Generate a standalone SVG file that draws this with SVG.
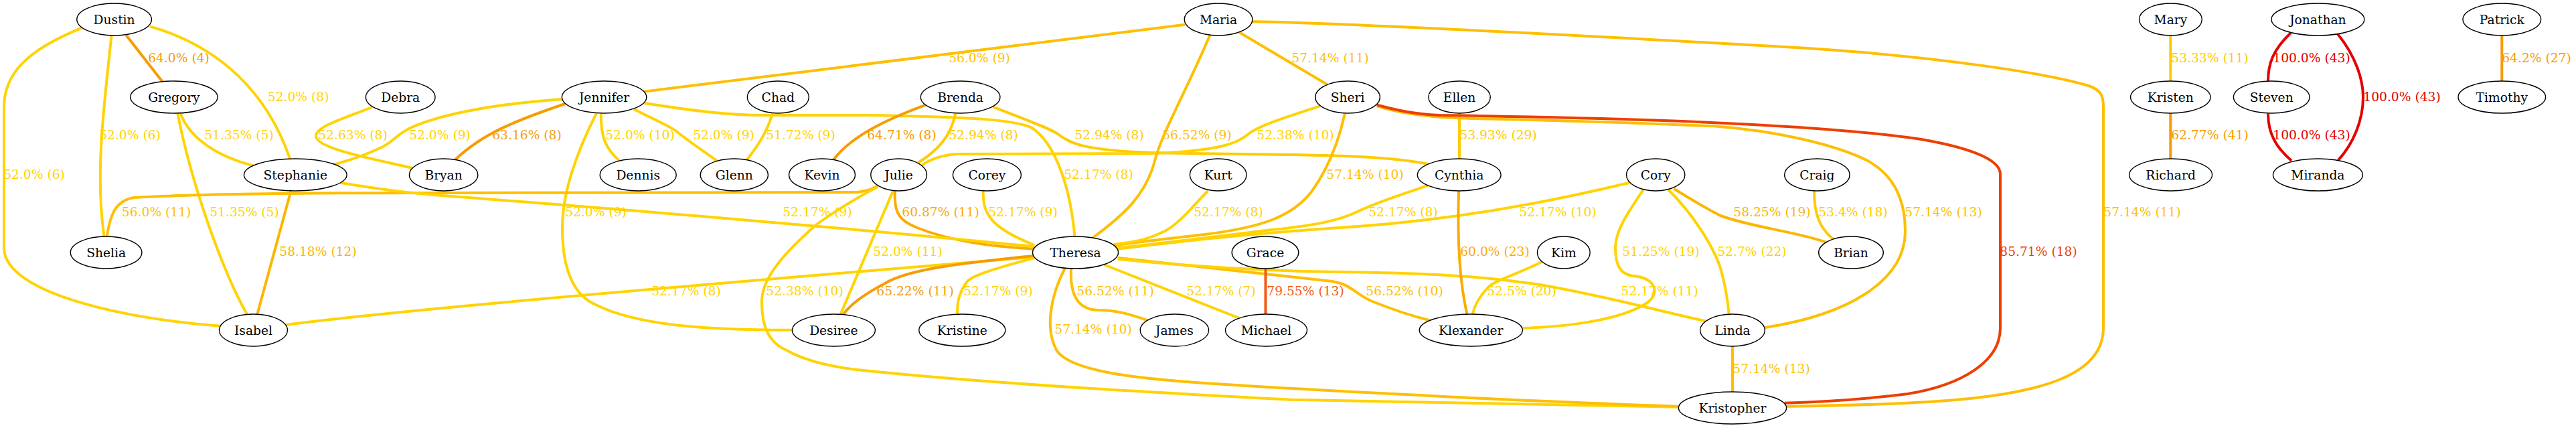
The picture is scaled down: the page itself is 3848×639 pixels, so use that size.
<svg xmlns="http://www.w3.org/2000/svg" width="3848" height="639" viewBox="0 0 3848 639">
<style>
text{font-family:"DejaVu Serif","Liberation Serif",serif;font-size:18.67px;text-anchor:middle}
.node ellipse{fill:#fff;stroke:#000;stroke-width:1.4}
.node text{fill:#000}
.edge path{fill:none;stroke-width:4}
.cA path{stroke:#FFD300}.cA text{fill:#FFD300}
.cB path{stroke:#FECB00}.cB text{fill:#FECB00}
.cC path{stroke:#FDBF00}.cC text{fill:#FDBF00}
.cD path{stroke:#FBB600}.cD text{fill:#FBB600}
.cE path{stroke:#FAAC00}.cE text{fill:#FAAC00}
.cF path{stroke:#F59D00}.cF text{fill:#F59D00}
.cG path{stroke:#F45A10}.cG text{fill:#F45A10}
.cH path{stroke:#EC3F00}.cH text{fill:#EC3F00}
.cI path{stroke:#E40000}.cI text{fill:#E40000}
</style>
<rect width="3848" height="639" fill="#fff"/>
<g id="edges">
<g class="edge cF" id="e_Dustin_Gregory"><path d="M188.6,52.7 L242.5,121.7"/><text x="267" y="92.5">64.0% (4)</text></g>
<g class="edge cA" id="e_Dustin_Shelia"><path d="M166.6,53 C155,160 142,260 155.5,353"/><text x="194" y="208.2">52.0% (6)</text></g>
<g class="edge cA" id="e_Dustin_Isabel"><path d="M122.3,41.7 C40,75 6,110 6,160 L6,370 C6,440 200,478 329.6,486.7"/><text x="51" y="266.5">52.0% (6)</text></g>
<g class="edge cA" id="e_Dustin_Stephanie"><path d="M223.9,39.3 C330,70 400,140 433.2,237.3"/><text x="445.6" y="150.5">52.0% (8)</text></g>
<g class="edge cA" id="e_Gregory_Stephanie"><path d="M269.5,169.3 C285,210 330,235 378,247.3"/><text x="357" y="208.2">51.35% (5)</text></g>
<g class="edge cA" id="e_Gregory_Isabel"><path d="M265.3,169.3 C285,270 330,400 369,469.3"/><text x="365" y="323.2">51.35% (5)</text></g>
<g class="edge cD" id="e_Stephanie_Isabel"><path d="M434.4,285.7 L384.3,469.3"/><text x="475" y="382.2">58.18% (12)</text></g>
<g class="edge cA" id="e_Debra_Bryan"><path d="M555.5,160 C520,175 472,188 472,203 C472,222 560,238 615.6,250.7"/><text x="527" y="208.2">52.63% (8)</text></g>
<g class="edge cA" id="e_Jennifer_Stephanie"><path d="M839.4,148.3 C740,155 660,170 615,190 C590,202 590,210 570,220 C545,232 520,240 497.5,246"/><text x="657" y="208.2">52.0% (9)</text></g>
<g class="edge cF" id="e_Jennifer_Bryan"><path d="M844,155 C770,180 720,200 680.2,238.3"/><text x="787" y="208.2">63.16% (8)</text></g>
<g class="edge cA" id="e_Jennifer_Dennis"><path d="M897.8,169.3 C897,205 905,222 925.2,240"/><text x="956" y="208.2">52.0% (10)</text></g>
<g class="edge cA" id="e_Jennifer_Glenn"><path d="M946.8,162.7 C975,178 995,185 1009,195 C1030,212 1050,225 1071,240"/><text x="1081" y="208.2">52.0% (9)</text></g>
<g class="edge cA" id="e_Chad_Glenn"><path d="M1154,169.3 C1145,200 1130,220 1115.9,238.3"/><text x="1196" y="208.2">51.72% (9)</text></g>
<g class="edge cC" id="e_Jennifer_Maria"><path d="M962.5,136.7 L1770.4,36.7"/><text x="1463" y="92.5">56.0% (9)</text></g>
<g class="edge cA" id="e_Jennifer_Theresa"><path d="M962.5,154 C1040,166 1090,172 1140,172 L1300,172 C1450,175 1510,178 1540,190 C1580,215 1600,290 1605.4,353.3"/><text x="1641" y="266.5">52.17% (8)</text></g>
<g class="edge cA" id="e_Jennifer_Desiree"><path d="M890.8,169.3 C860,230 840,290 840,340 C840,400 855,440 890,455 C950,485 1050,493 1183.4,492.7"/><text x="890" y="323.2">52.0% (9)</text></g>
<g class="edge cF" id="e_Brenda_Kevin"><path d="M1382.8,156.7 C1320,180 1270,205 1245.2,238.3"/><text x="1347" y="208.2">64.71% (8)</text></g>
<g class="edge cB" id="e_Brenda_Julie"><path d="M1427.2,169.3 C1420,205 1400,225 1371.2,243.3"/><text x="1469" y="208.2">52.94% (8)</text></g>
<g class="edge cB" id="e_Brenda_Cynthia"><path d="M1483,159.3 C1530,178 1565,190 1580,200 C1600,215 1620,224 1720,228 C1900,232 2050,228 2133.5,245"/><text x="1657" y="208.2">52.94% (8)</text></g>
<g class="edge cA" id="e_Sheri_Julie"><path d="M1971.8,158.3 C1920,175 1880,188 1865,200 C1850,212 1830,225 1720,229 L1430,230 C1410,231 1390,237 1377.4,246.7"/><text x="1935" y="208.2">52.38% (10)</text></g>
<g class="edge cC" id="e_Maria_Theresa"><path d="M1807.3,52.7 C1770,140 1735,200 1725,240 C1712,290 1680,320 1632.4,355"/><text x="1788" y="208.2">56.52% (9)</text></g>
<g class="edge cC" id="e_Maria_Sheri"><path d="M1851.2,48.3 L1982.2,126"/><text x="1987" y="92.5">57.14% (11)</text></g>
<g class="edge cC" id="e_Maria_Kristopher"><path d="M1870.7,32.3 C2000,34 2400,55 2700,72 C2900,85 3060,110 3120,128 C3140,135 3142,145 3142,160 L3142,490 C3142,560 3050,590 2880,600 C2800,605 2720,606 2668.6,606.7"/><text x="3200" y="323.2">57.14% (11)</text></g>
<g class="edge cC" id="e_Sheri_Theresa"><path d="M2009,169.3 C2000,210 1985,250 1960,285 C1930,325 1880,340 1800,350 C1730,358 1690,362 1665.5,366.7"/><text x="2039" y="266.5">57.14% (10)</text></g>
<g class="edge cA" id="e_Kurt_Theresa"><path d="M1804.4,285 C1780,310 1760,335 1740,345 C1710,360 1690,362 1663.5,365"/><text x="1835" y="323.2">52.17% (8)</text></g>
<g class="edge cA" id="e_Cynthia_Theresa"><path d="M2133.5,276.7 C2080,295 2050,305 2030,315 C2000,330 1960,337 1900,343 C1800,355 1720,365 1669.7,370"/><text x="2096" y="323.2">52.17% (8)</text></g>
<g class="edge cA" id="e_Cory_Theresa"><path d="M2434,272.7 C2300,305 2160,330 2000,340 C1850,350 1750,362 1669.7,371.7"/><text x="2327" y="323.2">52.17% (10)</text></g>
<g class="edge cE" id="e_Julie_Theresa"><path d="M1336.8,285 C1335,320 1345,330 1370,340 C1420,360 1480,368 1545.3,371.7"/><text x="1405" y="323.2">60.87% (11)</text></g>
<g class="edge cA" id="e_Corey_Theresa"><path d="M1468.6,285 C1468,320 1480,340 1545.3,366"/><text x="1528" y="323.2">52.17% (9)</text></g>
<g class="edge cA" id="e_Julie_Desiree"><path d="M1334,285 L1255.6,469.3"/><text x="1356" y="382.2">52.0% (11)</text></g>
<g class="edge cC" id="e_Shelia_Julie"><path d="M159.6,353.3 C165,320 172,300 200,295 C300,289 500,288 650,288 L1280,287 C1295,285 1305,282 1311,276.7"/><text x="233.6" y="323.2">56.0% (11)</text></g>
<g class="edge cA" id="e_Julie_Kristopher"><path d="M1311,279 C1280,295 1240,320 1220,335 C1180,370 1140,410 1138,447 C1137,490 1150,512 1175,523 C1200,537 1240,548 1290,553 C1500,575 1800,590 1930,596.7 C2200,603 2400,606 2507.4,607.7"/><text x="1202" y="440.5">52.38% (10)</text></g>
<g class="edge cA" id="e_Isabel_Theresa"><path d="M427,485 C560,468 800,446 1290,405 L1542.4,384"/><text x="1025" y="440.5">52.17% (8)</text></g>
<g class="edge cA" id="e_Stephanie_Theresa"><path d="M507.8,272.7 C580,285 620,289 660,292 C900,310 1300,343 1545.3,368.3"/><text x="1221" y="323.2">52.17% (9)</text></g>
<g class="edge cC" id="e_Theresa_Klexander"><path d="M1669.7,385 C1800,400 1900,410 1990,420 C2020,425 2025,440 2050,450 C2080,462 2110,472 2135.6,478.3"/><text x="2098" y="440.5">56.52% (10)</text></g>
<g class="edge cA" id="e_Theresa_Linda"><path d="M1669.7,386.7 C1800,400 1900,405 2000,406 C2100,407 2200,410 2300,425 C2400,442 2480,465 2548,479.3"/><text x="2479" y="440.5">52.17% (11)</text></g>
<g class="edge cA" id="e_Theresa_Michael"><path d="M1648.9,395 L1851.2,475"/><text x="1824" y="440.5">52.17% (7)</text></g>
<g class="edge cC" id="e_Theresa_James"><path d="M1600,401.7 C1598,440 1610,462 1640,463 C1670,463 1690,470 1714.4,478.3"/><text x="1666" y="440.5">56.52% (11)</text></g>
<g class="edge cA" id="e_Theresa_Kristine"><path d="M1545.3,385 C1490,400 1455,410 1445,420 C1430,440 1430,455 1430,469.3"/><text x="1491" y="440.5">52.17% (9)</text></g>
<g class="edge cF" id="e_Theresa_Desiree"><path d="M1545.3,381.7 C1450,392 1360,400 1321.5,423.3 C1290,440 1270,455 1259.7,469.3"/><text x="1367" y="440.5">65.22% (11)</text></g>
<g class="edge cC" id="e_Theresa_Kristopher"><path d="M1591,400 C1570,440 1560,490 1578.5,523.3 C1600,555 1700,565 1800,572 C2000,585 2300,600 2507.4,606.7"/><text x="1633" y="498.2">57.14% (10)</text></g>
<g class="edge cG" id="e_Grace_Michael"><path d="M1890.5,401 L1890.5,469"/><text x="1950" y="440.5">79.55% (13)</text></g>
<g class="edge cB" id="e_Ellen_Cynthia"><path d="M2180,169 L2180,237"/><text x="2238" y="208.2">53.93% (29)</text></g>
<g class="edge cC" id="e_Sheri_Linda"><path d="M2056.8,158.3 C2100,172 2150,176 2200,177 C2400,181 2500,186 2560,188.3 C2650,195 2740,215 2790,240 C2830,262 2846,300 2846,345 C2846,420 2760,470 2636.7,489"/><text x="2903" y="323.2">57.14% (13)</text></g>
<g class="edge cH" id="e_Sheri_Kristopher"><path d="M2056.8,156.7 C2090,165 2110,170 2150,172 C2400,176 2700,183 2870,208 C2950,222 2988,240 2988,260 L2988,490 C2988,540 2930,575 2850,588 C2780,597 2720,600 2665.7,601.7"/><text x="3045" y="382.2">85.71% (18)</text></g>
<g class="edge cE" id="e_Cynthia_Klexander"><path d="M2179,285 C2177,350 2180,420 2191.5,469.3"/><text x="2233" y="382.2">60.0% (23)</text></g>
<g class="edge cA" id="e_Kim_Klexander"><path d="M2303.4,391 C2260,412 2230,420 2222,430 C2208,445 2202,458 2199.8,469.3"/><text x="2273" y="440.5">52.5% (20)</text></g>
<g class="edge cA" id="e_Cory_Klexander"><path d="M2454.8,283.3 C2430,320 2413,345 2413,370 C2413,395 2420,410 2440,412 C2475,415 2480,440 2459,453 C2420,478 2340,488 2274.4,490"/><text x="2481" y="382.2">51.25% (19)</text></g>
<g class="edge cA" id="e_Cory_Linda"><path d="M2492,283.3 C2530,320 2560,370 2570,400 C2577,425 2581,450 2582.8,469.3"/><text x="2617" y="382.2">52.7% (22)</text></g>
<g class="edge cD" id="e_Cory_Brian"><path d="M2500.4,281.7 C2530,300 2550,312 2570,322 C2620,340 2680,345 2728,361.7"/><text x="2647" y="323.2">58.25% (19)</text></g>
<g class="edge cB" id="e_Craig_Brian"><path d="M2710,285 C2710,320 2718,340 2738,356.7"/><text x="2768" y="323.2">53.4% (18)</text></g>
<g class="edge cC" id="e_Linda_Kristopher"><path d="M2588,517 L2588,585"/><text x="2646" y="556.5">57.14% (13)</text></g>
<g class="edge cB" id="e_Mary_Kristen"><path d="M3242.3,53 L3242.3,121"/><text x="3301" y="92.5">53.33% (11)</text></g>
<g class="edge cF" id="e_Kristen_Richard"><path d="M3242.3,169 L3242.3,237"/><text x="3301" y="208.2">62.77% (41)</text></g>
<g class="edge cI" id="e_Jonathan_Steven"><path d="M3422,49 C3395,75 3388,95 3388,121.7"/><text x="3453" y="92.5">100.0% (43)</text></g>
<g class="edge cI" id="e_Steven_Miranda"><path d="M3388,169.3 C3388,200 3400,220 3423,240"/><text x="3453" y="208.2">100.0% (43)</text></g>
<g class="edge cI" id="e_Jonathan_Miranda"><path d="M3491.4,50 C3520,85 3530,120 3530,145 C3530,180 3515,215 3492.6,239.3"/><text x="3588" y="150.5">100.0% (43)</text></g>
<g class="edge cF" id="e_Patrick_Timothy"><path d="M3737.3,53 L3737.3,121"/><text x="3789" y="92.5">64.2% (27)</text></g>
</g>
<g id="n_Dustin" class="node"><ellipse cx="170.6" cy="29" rx="55.8" ry="24"/><text x="170.6" y="35.5">Dustin</text></g>
<g id="n_Gregory" class="node"><ellipse cx="259.9" cy="145" rx="65.1" ry="24"/><text x="259.9" y="151.5">Gregory</text></g>
<g id="n_Debra" class="node"><ellipse cx="598.2" cy="145" rx="51.8" ry="24"/><text x="598.2" y="151.5">Debra</text></g>
<g id="n_Jennifer" class="node"><ellipse cx="902.6" cy="145" rx="63.2" ry="24"/><text x="902.6" y="151.5">Jennifer</text></g>
<g id="n_Chad" class="node"><ellipse cx="1162.3" cy="145" rx="46" ry="24"/><text x="1162.3" y="151.5">Chad</text></g>
<g id="n_Brenda" class="node"><ellipse cx="1434.6" cy="145" rx="59.3" ry="24"/><text x="1434.6" y="151.5">Brenda</text></g>
<g id="n_Maria" class="node"><ellipse cx="1820" cy="29" rx="50.8" ry="24"/><text x="1820" y="35.5">Maria</text></g>
<g id="n_Sheri" class="node"><ellipse cx="2013.1" cy="145" rx="48.3" ry="24"/><text x="2013.1" y="151.5">Sheri</text></g>
<g id="n_Ellen" class="node"><ellipse cx="2180.1" cy="145" rx="46.2" ry="24"/><text x="2180.1" y="151.5">Ellen</text></g>
<g id="n_Mary" class="node"><ellipse cx="3242.4" cy="29" rx="46.9" ry="24"/><text x="3242.4" y="35.5">Mary</text></g>
<g id="n_Kristen" class="node"><ellipse cx="3242.3" cy="145" rx="59.7" ry="24"/><text x="3242.3" y="151.5">Kristen</text></g>
<g id="n_Richard" class="node"><ellipse cx="3242.6" cy="261" rx="62" ry="24"/><text x="3242.6" y="267.5">Richard</text></g>
<g id="n_Jonathan" class="node"><ellipse cx="3462.4" cy="29" rx="69.4" ry="24"/><text x="3462.4" y="35.5">Jonathan</text></g>
<g id="n_Steven" class="node"><ellipse cx="3393.2" cy="145" rx="56.8" ry="24"/><text x="3393.2" y="151.5">Steven</text></g>
<g id="n_Miranda" class="node"><ellipse cx="3462.4" cy="261" rx="67" ry="24"/><text x="3462.4" y="267.5">Miranda</text></g>
<g id="n_Patrick" class="node"><ellipse cx="3737.3" cy="29" rx="58.3" ry="24"/><text x="3737.3" y="35.5">Patrick</text></g>
<g id="n_Timothy" class="node"><ellipse cx="3737.3" cy="145" rx="65.3" ry="24"/><text x="3737.3" y="151.5">Timothy</text></g>
<g id="n_Stephanie" class="node"><ellipse cx="441.3" cy="261" rx="76.9" ry="24"/><text x="441.3" y="267.5">Stephanie</text></g>
<g id="n_Bryan" class="node"><ellipse cx="662.6" cy="261" rx="51.2" ry="24"/><text x="662.6" y="267.5">Bryan</text></g>
<g id="n_Dennis" class="node"><ellipse cx="953.2" cy="261" rx="57" ry="24"/><text x="953.2" y="267.5">Dennis</text></g>
<g id="n_Glenn" class="node"><ellipse cx="1096.8" cy="261" rx="50.6" ry="24"/><text x="1096.8" y="267.5">Glenn</text></g>
<g id="n_Kevin" class="node"><ellipse cx="1228" cy="261" rx="49.5" ry="24"/><text x="1228" y="267.5">Kevin</text></g>
<g id="n_Julie" class="node"><ellipse cx="1342.6" cy="261" rx="41.9" ry="24"/><text x="1342.6" y="267.5">Julie</text></g>
<g id="n_Corey" class="node"><ellipse cx="1474.4" cy="261" rx="51" ry="24"/><text x="1474.4" y="267.5">Corey</text></g>
<g id="n_Kurt" class="node"><ellipse cx="1819.7" cy="261" rx="42.3" ry="24"/><text x="1819.7" y="267.5">Kurt</text></g>
<g id="n_Cynthia" class="node"><ellipse cx="2179.7" cy="261" rx="62.4" ry="24"/><text x="2179.7" y="267.5">Cynthia</text></g>
<g id="n_Cory" class="node"><ellipse cx="2473.2" cy="261" rx="43.7" ry="24"/><text x="2473.2" y="267.5">Cory</text></g>
<g id="n_Craig" class="node"><ellipse cx="2714.4" cy="261" rx="48.7" ry="24"/><text x="2714.4" y="267.5">Craig</text></g>
<g id="n_Shelia" class="node"><ellipse cx="158.6" cy="377" rx="53.3" ry="24"/><text x="158.6" y="383.5">Shelia</text></g>
<g id="n_Theresa" class="node"><ellipse cx="1606.5" cy="377" rx="64" ry="24"/><text x="1606.5" y="383.5">Theresa</text></g>
<g id="n_Grace" class="node"><ellipse cx="1890" cy="377" rx="49.8" ry="24"/><text x="1890" y="383.5">Grace</text></g>
<g id="n_Kim" class="node"><ellipse cx="2335.8" cy="377" rx="39.4" ry="24"/><text x="2335.8" y="383.5">Kim</text></g>
<g id="n_Brian" class="node"><ellipse cx="2765" cy="377" rx="48.3" ry="24"/><text x="2765" y="383.5">Brian</text></g>
<g id="n_Isabel" class="node"><ellipse cx="378.5" cy="493" rx="51" ry="24"/><text x="378.5" y="499.5">Isabel</text></g>
<g id="n_Desiree" class="node"><ellipse cx="1245.4" cy="493" rx="62" ry="24"/><text x="1245.4" y="499.5">Desiree</text></g>
<g id="n_Kristine" class="node"><ellipse cx="1437.3" cy="493" rx="64.5" ry="24"/><text x="1437.3" y="499.5">Kristine</text></g>
<g id="n_James" class="node"><ellipse cx="1754.4" cy="493" rx="51.2" ry="24"/><text x="1754.4" y="499.5">James</text></g>
<g id="n_Michael" class="node"><ellipse cx="1891.5" cy="493" rx="61" ry="24"/><text x="1891.5" y="499.5">Michael</text></g>
<g id="n_Klexander" class="node"><ellipse cx="2197.3" cy="493" rx="77.1" ry="24"/><text x="2197.3" y="499.5">Klexander</text></g>
<g id="n_Linda" class="node"><ellipse cx="2588" cy="493" rx="48.3" ry="24"/><text x="2588" y="499.5">Linda</text></g>
<g id="n_Kristopher" class="node"><ellipse cx="2588" cy="609" rx="80.6" ry="24"/><text x="2588" y="615.5">Kristopher</text></g>
</svg>
